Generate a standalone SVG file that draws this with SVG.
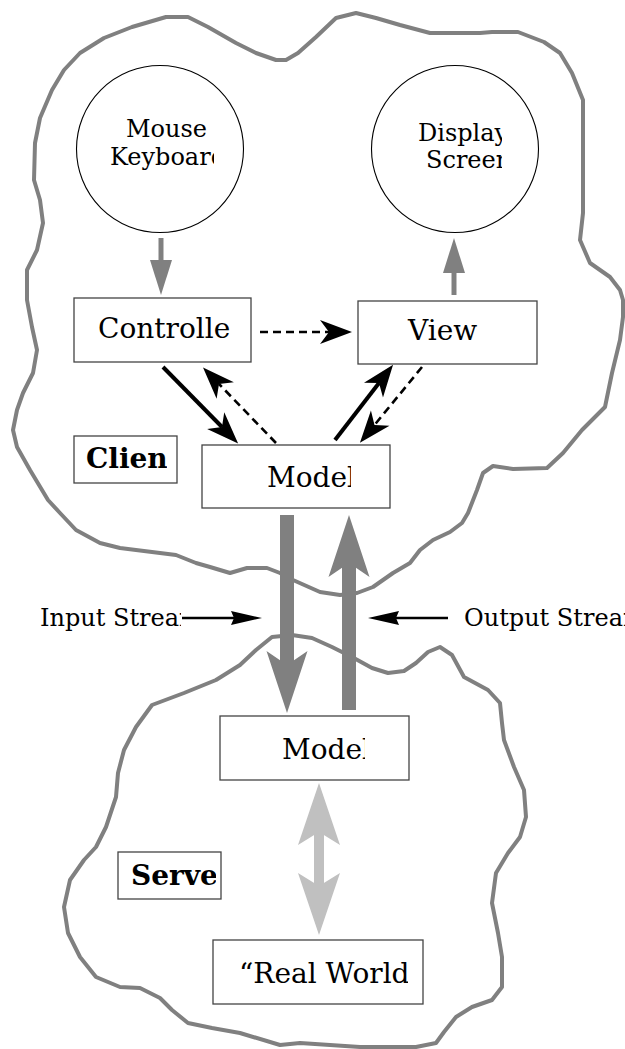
<svg xmlns="http://www.w3.org/2000/svg" width="625" height="1049" viewBox="0 0 625 1049">
<style>
.blob{fill:none;stroke:#808080;stroke-width:4;stroke-linejoin:round;stroke-linecap:round}
.box{fill:#fff;stroke:#444;stroke-width:1.3}
.circ{fill:#fff;stroke:#000;stroke-width:1.1}
.t{font-family:"DejaVu Serif","Liberation Serif",serif;fill:#000}
.s24{font-size:24px}
.s28{font-size:28px}
.b{font-weight:bold}
.solid{stroke:#000;stroke-width:4;fill:none}
.dash{stroke:#000;stroke-width:2.6;fill:none;stroke-dasharray:8 5}
.gray{stroke:#808080;stroke-width:5;fill:none}
.big{stroke:#808080;stroke-width:14;fill:none}
.light{stroke:#c0c0c0;stroke-width:10;fill:none}
.thin{stroke:#000;stroke-width:2.5;fill:none}
</style>
<defs>
<marker id="hb" markerUnits="userSpaceOnUse" orient="auto" overflow="visible" markerWidth="1" markerHeight="1" refX="0" refY="0"><path d="M23,0 L-9,-12 L0,0 L-9,12 Z" fill="#000"/></marker>
<marker id="hg" markerUnits="userSpaceOnUse" orient="auto" overflow="visible" markerWidth="1" markerHeight="1" refX="0" refY="0"><path d="M35,0 L0,-11 L0,11 Z" fill="#808080"/></marker>
<marker id="hbig" markerUnits="userSpaceOnUse" orient="auto" overflow="visible" markerWidth="1" markerHeight="1" refX="0" refY="0"><path d="M48,0 L-14,-20.5 L0,0 L-14,20.5 Z" fill="#808080"/></marker>
<marker id="hl" markerUnits="userSpaceOnUse" orient="auto-start-reverse" overflow="visible" markerWidth="1" markerHeight="1" refX="0" refY="0"><path d="M49,0 L-13,-21 L0,0 L-13,21 Z" fill="#c0c0c0"/></marker>
<marker id="hs" markerUnits="userSpaceOnUse" orient="auto" overflow="visible" markerWidth="1" markerHeight="1" refX="0" refY="0"><path d="M28,0 L-3,-7 L0,0 L-3,7 Z" fill="#000"/></marker>
<clipPath id="cMouse"><rect x="0" y="0" width="214" height="1049"/></clipPath>
<clipPath id="cDisp"><rect x="0" y="0" width="502" height="1049"/></clipPath>
<clipPath id="cCtrl"><rect x="0" y="0" width="230" height="1049"/></clipPath>
<clipPath id="cModel1"><rect x="0" y="0" width="351" height="1049"/></clipPath>
<clipPath id="cClient"><rect x="0" y="0" width="167" height="1049"/></clipPath>
<clipPath id="cIn"><rect x="0" y="0" width="181" height="1049"/></clipPath>
<clipPath id="cModel2"><rect x="0" y="0" width="365" height="1049"/></clipPath>
<clipPath id="cServer"><rect x="0" y="0" width="216" height="1049"/></clipPath>
<clipPath id="cReal"><rect x="0" y="0" width="408" height="1049"/></clipPath>
</defs>
<rect x="0" y="0" width="625" height="1049" fill="#fff"/>

<g id="client-cloud">
<path class="blob" d="M27,300 L27,270 L37,250 L43,223 L40,200 L34,180 L35,143 L40,118 L52,90 L64,70 L80,53 L104,38 L132,27 L166,17 L188,17 L208,27 L236,43 L256,53 L276,60 L286,60 L298,53 L316,37 L336,18 L356,13 L376,18 L400,25 L430,33 L480,33 L492,32 L518,32 L544,42 L560,53 L572,73 L583,100 L583,127 L583,213 L580,240 L590,263 L610,277 L620,290 L623,300 L623,317 L620,340 L612,373 L605,407 L582,430 L563,453 L547,468 L513,469 L493,466 L483,473 L477,490 L468,513 L462,523 L450,532 L433,540 L420,550 L410,563 L393,573 L373,587 L357,593 L340,595 L320,592 L293,580 L280,573 L267,568 L247,568 L230,573 L210,567 L196,563 L176,555 L152,552 L120,548 L100,543 L76,530 L60,513 L48,500 L30,470 L17,447 L13,430 L17,410 L23,393 L33,373 L37,350 L32,327 Z"/>
</g>
<g id="server-cloud">
<path class="blob" d="M256,650 L272,637 L292,635 L312,638 L332,647 L352,657 L372,668 L388,673 L404,671 L416,663 L428,652 L440,647 L452,655 L464,677 L488,690 L500,703 L502,723 L504,740 L514,767 L524,790 L526,817 L520,837 L508,853 L496,873 L492,903 L498,933 L502,957 L502,987 L492,1000 L472,1007 L456,1017 L444,1032 L436,1043 L416,1047 L360,1047 L300,1043 L280,1045 L240,1033 L212,1028 L188,1023 L172,1010 L160,998 L140,988 L120,987 L96,977 L80,957 L68,933 L64,907 L70,880 L84,860 L96,847 L106,827 L116,797 L118,773 L124,750 L136,727 L152,705 L184,693 L216,680 L240,665 Z"/>
</g>

<g id="mouse-keyboard">
<circle class="circ" cx="160" cy="149" r="83.5"/>
<g clip-path="url(#cMouse)">
<text class="t s24" x="126" y="137">Mouse</text>
<text class="t s24" x="110" y="165">Keyboard</text>
</g>
</g>
<g id="display-screen">
<circle class="circ" cx="455" cy="149" r="83.5"/>
<g clip-path="url(#cDisp)">
<text class="t s24" x="418" y="141">Display</text>
<text class="t s24" x="426" y="168">Screen</text>
</g>
</g>
<g id="controller">
<rect class="box" x="74" y="298" width="177" height="64"/>
<text class="t s28" x="98" y="338" clip-path="url(#cCtrl)">Controller</text>
</g>
<g id="view">
<rect class="box" x="358" y="301" width="179" height="63"/>
<text class="t s28" x="408" y="340">View</text>
</g>
<g id="client-label">
<rect class="box" x="74" y="436" width="103" height="47"/>
<text class="t s28 b" x="86" y="468" clip-path="url(#cClient)">Client</text>
</g>
<g id="client-model">
<rect class="box" x="202" y="445" width="188" height="63"/>
<text class="t s28" x="267" y="487" clip-path="url(#cModel1)">Model</text>
</g>
<g id="input-stream-label">
<text class="t s24" x="40" y="626" clip-path="url(#cIn)">Input Stream</text>
</g>
<g id="output-stream-label">
<text class="t s24" x="464" y="626">Output Stream</text>
</g>
<g id="server-model">
<rect class="box" x="220" y="716" width="189" height="64"/>
<text class="t s28" x="282" y="759" clip-path="url(#cModel2)">Model</text>
</g>
<g id="server-label">
<rect class="box" x="118" y="852" width="103" height="47"/>
<text class="t s28 b" x="131" y="885" clip-path="url(#cServer)">Server</text>
</g>
<g id="real-world">
<rect class="box" x="213" y="940" width="210" height="64"/>
<text class="t s28" x="239" y="983" clip-path="url(#cReal)">“Real World”</text>
</g>

<g id="connectors">
<line class="gray" x1="161" y1="238" x2="161" y2="260" marker-end="url(#hg)"/>
<line class="gray" x1="454" y1="295" x2="454" y2="273" marker-end="url(#hg)"/>
<line class="dash" x1="260" y1="332" x2="329" y2="332" marker-end="url(#hb)"/>
<line class="solid" x1="163" y1="367" x2="222" y2="427" marker-end="url(#hb)"/>
<line class="dash" x1="276" y1="443" x2="219" y2="384" marker-end="url(#hb)"/>
<line class="solid" x1="335" y1="440" x2="379" y2="383" marker-end="url(#hb)"/>
<line class="dash" x1="422" y1="367" x2="374.5" y2="425" marker-end="url(#hb)"/>
<line class="big" x1="287" y1="515" x2="287" y2="665" marker-end="url(#hbig)"/>
<line class="big" x1="349" y1="710" x2="349" y2="563" marker-end="url(#hbig)"/>
<line class="thin" x1="182" y1="618" x2="234" y2="618" marker-end="url(#hs)"/>
<line class="thin" x1="448" y1="618" x2="396" y2="618" marker-end="url(#hs)"/>
<line class="light" x1="319" y1="832" x2="319" y2="886" marker-start="url(#hl)" marker-end="url(#hl)"/>
</g>
</svg>
